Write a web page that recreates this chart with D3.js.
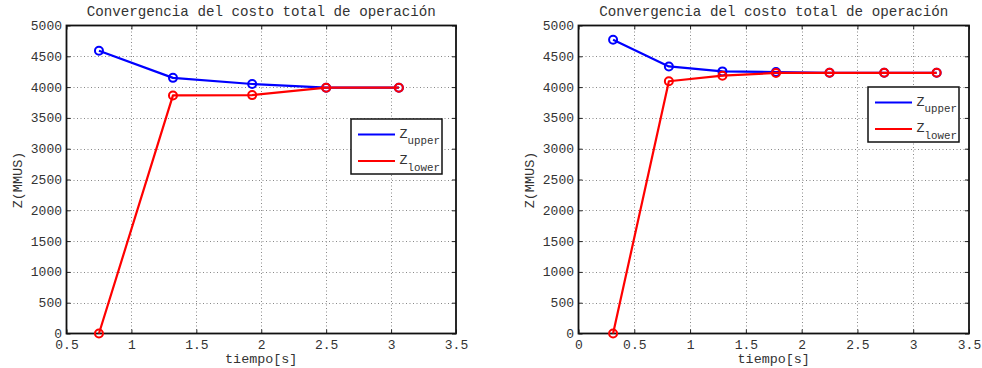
<!DOCTYPE html>
<html>
<head>
<meta charset="utf-8">
<script src="https://cdn.jsdelivr.net/npm/d3@7"></script>
<style>
  html, body { margin: 0; padding: 0; background: #fff; }
  svg { display: block; }
  text { font-family: "Liberation Mono", "Courier New", monospace; fill: #333; }
</style>
</head>
<body>
<svg id="chart" width="982" height="368"></svg>
<script>
// Iteration times (s) and total cost bounds (MMUS) for each run
const leftTime  = [0.75, 1.32, 1.93, 2.50, 3.06];
const leftUpper = [4590, 4150, 4050, 3990, 3990];
const leftLower = [0, 3865, 3870, 3990, 3990];

const rightTime  = [0.31, 0.81, 1.29, 1.77, 2.25, 2.74, 3.21];
const rightUpper = [4770, 4335, 4255, 4245, 4232, 4232, 4232];
const rightLower = [0, 4095, 4185, 4230, 4232, 4232, 4232];

const leftXTicks  = [0.5, 1, 1.5, 2, 2.5, 3, 3.5];
const rightXTicks = [0, 0.5, 1, 1.5, 2, 2.5, 3, 3.5];
const yTicks = [0, 500, 1000, 1500, 2000, 2500, 3000, 3500, 4000, 4500, 5000];

const titleText = "Convergencia del costo total de operación";
const xLabel = "tiempo[s]";
const yLabel = "Z(MMUS)";
const seriesNames = ["upper", "lower"];
const seriesColors = ["#0000ff", "#ff0000"];

const svg = d3.select("#chart");

function panel(cfg) {
  const x = d3.scaleLinear().domain(cfg.xDomain).range([cfg.left, cfg.right]);
  const y = d3.scaleLinear().domain([0, 5000]).range([333.5, 25.5]);
  const g = svg.append("g");

  // dotted grid
  const grid = g.append("g").attr("stroke", "#888").attr("stroke-width", 1)
    .attr("stroke-dasharray", "1,2.5");
  grid.selectAll(".gx").data(cfg.xTicks.slice(1, -1)).join("line")
    .attr("x1", d => Math.round(x(d)) + 0.5).attr("x2", d => Math.round(x(d)) + 0.5)
    .attr("y1", y(0)).attr("y2", y(5000));
  grid.selectAll(".gy").data(yTicks.slice(1, -1)).join("line")
    .attr("y1", d => Math.round(y(d)) + 0.5).attr("y2", d => Math.round(y(d)) + 0.5)
    .attr("x1", cfg.left).attr("x2", cfg.right);

  // axes (ticks inward on all four sides)
  const tickLen = 4;
  const bottom = g.append("g").attr("transform", `translate(0,${y(0)})`)
    .call(d3.axisBottom(x).tickValues(cfg.xTicks).tickSizeInner(-tickLen).tickSizeOuter(0)
      .tickPadding(6.5).tickFormat(d3.format("")));
  const leftAx = g.append("g").attr("transform", `translate(${cfg.left},0)`)
    .call(d3.axisLeft(y).tickValues(yTicks).tickSizeInner(-tickLen).tickSizeOuter(0)
      .tickPadding(4.5).tickFormat(d3.format("d")));
  const topAx = g.append("g").attr("transform", `translate(0,${y(5000)})`)
    .call(d3.axisTop(x).tickValues(cfg.xTicks).tickSizeInner(-tickLen).tickSizeOuter(0).tickFormat(""));
  const rightAx = g.append("g").attr("transform", `translate(${cfg.right},0)`)
    .call(d3.axisRight(y).tickValues(yTicks).tickSizeInner(-tickLen).tickSizeOuter(0).tickFormat(""));
  [bottom, leftAx, topAx, rightAx].forEach(a => {
    a.select(".domain").remove();
    a.selectAll(".tick line").attr("stroke", "#222").attr("stroke-width", 1);
    a.selectAll("text").attr("font-size", 13).attr("fill", "#333")
      .attr("font-family", '"Liberation Mono", monospace');
  });
  bottom.selectAll("text").attr("dy", "0.71em");
  leftAx.selectAll("text").attr("dy", "0.3em");

  // box
  g.append("rect").attr("x", cfg.left).attr("y", y(5000))
    .attr("width", cfg.right - cfg.left).attr("height", y(0) - y(5000))
    .attr("fill", "none").attr("stroke", "#111").attr("stroke-width", 1.8);

  // title and labels
  const cx = (cfg.left + cfg.right) / 2;
  g.append("text").attr("x", cx).attr("y", 16).attr("text-anchor", "middle")
    .attr("font-size", 14.2).text(titleText);
  g.append("text").attr("x", cx).attr("y", 362.5).attr("text-anchor", "middle")
    .attr("font-size", 13.4).text(xLabel);
  g.append("text").attr("transform", `translate(${cfg.left - 45},${180}) rotate(-90)`)
    .attr("text-anchor", "middle").attr("font-size", 13.5).text(yLabel);

  // series lines and markers
  const line = d3.line().x(d => x(d[0])).y(d => y(d[1]));
  [cfg.upper, cfg.lower].forEach((vals, i) => {
    const pts = cfg.time.map((t, k) => [t, vals[k]]);
    const s = g.append("g");
    s.append("path").datum(pts).attr("d", line).attr("fill", "none")
      .attr("stroke", seriesColors[i]).attr("stroke-width", 2.2).attr("stroke-linejoin", "round");
    s.selectAll("circle").data(pts).join("circle")
      .attr("cx", d => x(d[0])).attr("cy", d => y(d[1])).attr("r", 4)
      .attr("fill", "none").attr("stroke", seriesColors[i]).attr("stroke-width", 2);
  });

  // legend
  const L = cfg.legend;
  const lg = g.append("g").attr("transform", `translate(${L.x},${L.y})`);
  lg.append("rect").attr("width", L.w).attr("height", L.h)
    .attr("fill", "#fff").attr("stroke", "#111").attr("stroke-width", 1.5);
  seriesNames.forEach((name, i) => {
    const ly = 15.5 + i * 26.5;
    lg.append("line").attr("x1", 7).attr("x2", 44).attr("y1", ly).attr("y2", ly)
      .attr("stroke", seriesColors[i]).attr("stroke-width", 2.2);
    const t = lg.append("text").attr("x", 48.5).attr("y", ly + 3).attr("font-size", 13.4);
    t.append("tspan").text("Z");
    t.append("tspan").attr("dy", 6.5).attr("font-size", 10.8).text(name);
  });
}

panel({
  xDomain: [0.5, 3.5], left: 66.5, right: 456, xTicks: leftXTicks,
  time: leftTime, upper: leftUpper, lower: leftLower,
  legend: { x: 351, y: 119, w: 91, h: 55 }
});
panel({
  xDomain: [0, 3.5], left: 578.5, right: 969, xTicks: rightXTicks,
  time: rightTime, upper: rightUpper, lower: rightLower,
  legend: { x: 868, y: 87, w: 91, h: 55 }
});
</script>
</body>
</html>
